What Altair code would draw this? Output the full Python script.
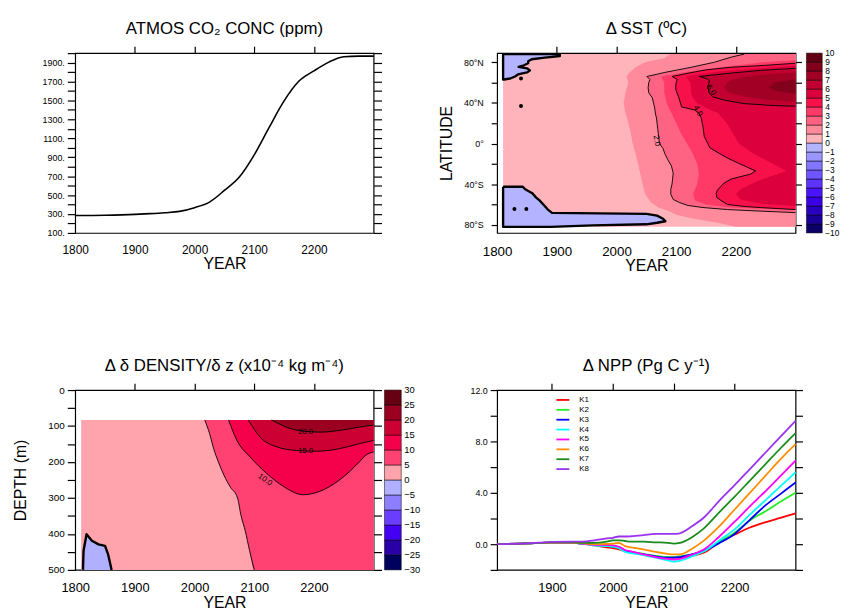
import altair as alt
import pandas as pd

FONT = "Liberation Sans"
W, H = 302, 182
COL_GAP, ROW_GAP = 125, 159

# ---------------- shared tick values ----------------
year_labels = [1800, 1900, 2000, 2100, 2200]
year_labels_npp = [1900, 2000, 2100, 2200]
year_top_ticks = [1900, 2000, 2100, 2200]

# ---------------- Panel 1: atmospheric CO2 ----------------
co2_years = [1800, 1850, 1900, 1925, 1950, 1975, 2000, 2025, 2050, 2075,
             2100, 2125, 2150, 2175, 2200, 2225, 2250, 2275, 2300]
co2_ppm = [284, 287, 296, 304, 314, 328, 367, 426, 549, 690,
           925, 1215, 1495, 1705, 1812, 1905, 1962, 1968, 1968]
co2_ticks = [100, 200, 300, 400, 500, 600, 700, 800, 900, 1000, 1100, 1200,
             1300, 1400, 1500, 1600, 1700, 1800, 1900, 2000]

# ---------------- Panel 2: delta SST (contour boundaries, lat -> year) ----------------
SST_YEAR0, SST_YEAR1 = 1810, 2300
SST_LAT_S, SST_LAT_N = -82, 88
sst_lat_ticks = [-80, -60, -40, -20, 0, 20, 40, 60, 80]

sst_l1_lat = [88, 84, 80, 75, 70, 66, 60, 50, 40, 30, 20, 10, 0, -10, -20, -30,
              -40, -50, -58, -63, -67, -70, -74, -78, -82]
sst_l1_year = [2090, 2080, 2048, 2032, 2022, 2017, 2020, 2015, 2012, 2015, 2020, 2024,
               2027, 2032, 2036, 2040, 2044, 2048, 2058, 2070, 2090, 2100, 2130, 2170, 2200]

sst_l2_lat = [88, 85, 80, 75, 70, 66, 63, 60, 55, 50, 45, 40, 35, 30, 25, 20, 15, 10,
              5, 0, -5, -10, -16, -22, -29, -35, -40, -45, -50, -55, -58, -61, -63,
              -65, -66.5, -68]
sst_l2_year = [2214, 2192, 2164, 2125, 2081, 2051, 2056, 2054, 2053, 2054, 2060, 2062,
               2064, 2065, 2067, 2068, 2069, 2070, 2071, 2072, 2078, 2081, 2086, 2092,
               2095, 2094, 2093, 2091, 2091, 2095, 2105, 2120, 2145, 2186, 2240, 2300]

sst_l3_lat = [82, 80, 75, 70, 66, 60, 50, 40, 30, 20, 10, 0, -10, -20, -30, -40, -50,
              -56, -60, -63, -65.5]
sst_l3_year = [2300, 2245, 2175, 2112, 2075, 2080, 2080, 2084, 2092, 2100, 2108, 2118,
               2128, 2135, 2138, 2135, 2128, 2132, 2150, 2190, 2300]

sst_l4_lat = [79, 77, 75, 72.5, 70.5, 68, 66, 63, 60, 55, 52, 46, 40, 36, 33, 30, 25,
              16, 7, 0, -4, -9, -14, -19, -23, -27, -30, -33, -35, -39, -42, -46, -49,
              -53, -56, -60, -62, -63, -64, -65]
sst_l4_year = [2300, 2250, 2190, 2150, 2131, 2110, 2093, 2102, 2100, 2099, 2100, 2104,
               2107, 2109, 2131, 2138, 2142, 2145, 2147, 2153, 2156, 2170, 2185, 2203,
               2218, 2233, 2225, 2205, 2192, 2180, 2175, 2169, 2167, 2168, 2175, 2186,
               2215, 2241, 2270, 2300]

sst_l5_lat = [76.5, 75, 73, 70.5, 68, 66, 60, 50, 45, 40, 35, 30, 20, 10, 0, -10, -20,
              -27, -32, -38, -45, -50, -55, -59, -61.5]
sst_l5_year = [2300, 2265, 2215, 2165, 2135, 2116, 2124, 2125, 2128, 2135, 2150, 2170,
               2185, 2195, 2205, 2230, 2262, 2285, 2260, 2232, 2208, 2200, 2208, 2240, 2300]

sst_l6_lat = [74, 72, 69, 66, 64, 62, 56, 50, 46, 42.6, 39.3, 37.5, 36.7]
sst_l6_year = [2300, 2241, 2186, 2139, 2150, 2156, 2153, 2155, 2161, 2181, 2214, 2260, 2300]

sst_l7_lat = [70, 68, 66, 63, 60, 55, 50, 46, 43, 41]
sst_l7_year = [2300, 2250, 2215, 2195, 2185, 2180, 2190, 2215, 2250, 2300]

sst_l8_lat = [63, 60, 56, 52, 49]
sst_l8_year = [2300, 2265, 2255, 2265, 2300]

# cold (below 0) patches: for each latitude, the year where the patch ends
sst_nblue_lat = [88, 86, 84.5, 83, 81, 79, 77, 75.5, 74, 72, 70, 68, 66, 64, 63]
sst_nblue_end = [1905, 1905, 1880, 1858, 1852, 1852, 1845, 1836, 1850, 1855, 1850,
                 1835, 1830, 1822, 1812]
sst_sblue_lat = [-42.5, -45, -49, -53, -56, -61, -65, -68.3, -69.2, -71, -74, -76.5,
                 -78, -79.5, -80.5, -82]
sst_sblue_end = [1843, 1847, 1859, 1865, 1871, 1879, 1885, 1892, 2050, 2068, 2078,
                 2082, 2068, 2050, 1960, 1890]
sst_dot_year = [1840, 1840, 1829, 1849]
sst_dot_lat = [64, 37, -64.5, -64.5]

sst_lab_text = ["2.0", "4.0", "6.0"]
sst_lab_year = [2067, 2136, 2158]
sst_lab_lat = [2.7, 31.9, 52.5]
sst_lab_angle = [78, 60, 53]

sst_cb_edges = [-10, -9, -8, -7, -6, -5, -4, -3, -2, -1, 0, 1, 2, 3, 4, 5, 6, 7, 8, 9, 10]
sst_colors = ["#0B0066", "#1A0099", "#2A00C0", "#3A00E6", "#4A14FF", "#5C33FF",
              "#6E55FF", "#8275FF", "#9A95FF", "#B3B3FF",
              "#FFB3BB", "#FF8A9C", "#FF6383", "#FF3A66", "#F7104A", "#DC003C",
              "#C10031", "#A30026", "#82001B", "#600012"]

# ---------------- Panel 3: delta d(density)/dz (contour boundaries, year -> depth) ----------------
DEN_YEAR0, DEN_YEAR1 = 1810, 2300
DEN_TOP, DEN_BOT = 83, 500
den_ticks = [0, 50, 100, 150, 200, 250, 300, 350, 400, 450, 500]

den_l5_year = [2017, 2025, 2032, 2040, 2049, 2060, 2072, 2078, 2085, 2092, 2100]
den_l5_depth = [83, 120, 163, 200, 236, 270, 300, 350, 392, 445, 500]
den_l10_year = [2057, 2071, 2093, 2121, 2149, 2182, 2209, 2243, 2276, 2287, 2300]
den_l10_depth = [83, 140, 186, 232, 268, 291, 282, 250, 200, 181, 172]
den_l15_year = [2090, 2110, 2138, 2171, 2204, 2243, 2276, 2300]
den_l15_depth = [83, 131, 158, 168, 170, 163, 149, 140]
den_l20_year = [2129, 2148, 2176, 2210, 2248, 2276, 2300]
den_l20_depth = [83, 99, 113, 117, 111, 103, 97]
den_blue_year = [1813, 1814, 1819, 1828, 1839, 1850, 1855, 1861]
den_blue_depth = [500, 447, 401, 419, 429, 433, 456, 500]

den_lab_text = ["20.0", "15.0", "10.0"]
den_lab_year = [2186, 2186, 2118]
den_lab_depth = [117, 169, 250]
den_lab_angle = [0, 0, 35]

den_cb_edges = [-30, -25, -20, -15, -10, -5, 0, 5, 10, 15, 20, 25, 30]
den_colors = ["#00005E", "#2A00A6", "#4400F2", "#6A3DFF", "#8C7FFF", "#B0B0FF",
              "#FFA3AC", "#FF4272", "#F5004A", "#CC0033", "#9C0021", "#660012"]

# ---------------- Panel 4: delta NPP ----------------
npp_years = [1810, 1850, 1880, 1900, 1930, 1950, 1970, 1990, 2000, 2010, 2020, 2030,
             2050, 2070, 2090, 2100, 2110, 2130, 2150, 2175, 2200, 2225, 2250, 2275, 2300]
npp_k1 = [0, 0.05, 0.1, 0.12, 0.1, 0.05, -0.1, -0.25, -0.3, -0.4, -0.55, -0.65, -0.8,
          -0.95, -1.05, -1.05, -1.05, -0.9, -0.65, 0.15, 0.75, 1.3, 1.7, 2.05, 2.4]
npp_k2 = [0, 0.05, 0.1, 0.12, 0.1, 0.05, -0.05, -0.1, -0.2, -0.3, -0.5, -0.6, -0.75,
          -0.9, -1.0, -1.0, -0.95, -0.8, -0.5, 0.2, 0.9, 1.85, 2.55, 3.3, 4.0]
npp_k3 = [0, 0.05, 0.1, 0.12, 0.1, 0.05, -0.05, -0.1, -0.2, -0.25, -0.5, -0.6, -0.8,
          -0.95, -1.05, -1.05, -1.0, -0.8, -0.5, 0.1, 0.8, 1.9, 3.0, 3.9, 4.8]
npp_k4 = [0, 0.05, 0.1, 0.12, 0.1, 0.05, -0.1, -0.15, -0.2, -0.3, -0.6, -0.7, -0.85,
          -1.05, -1.25, -1.35, -1.3, -0.95, -0.55, 0.3, 1.15, 2.3, 3.4, 4.5, 5.6]
npp_k5 = [0, 0.05, 0.1, 0.12, 0.1, 0.05, -0.05, -0.05, -0.1, -0.2, -0.45, -0.55, -0.8,
          -1.0, -1.15, -1.2, -1.15, -0.8, -0.4, 0.6, 1.75, 2.95, 4.1, 5.3, 6.5]
npp_k6 = [0, 0.05, 0.1, 0.12, 0.12, 0.08, 0.0, 0.02, 0.05, 0.1, -0.15, -0.25, -0.4,
          -0.6, -0.75, -0.8, -0.8, -0.35, 0.3, 1.4, 2.7, 4.0, 5.3, 6.6, 7.8]
npp_k7 = [0, 0.05, 0.1, 0.15, 0.15, 0.1, 0.1, 0.2, 0.3, 0.3, 0.25, 0.2, 0.2, 0.15,
          0.1, 0.05, 0.1, 0.55, 1.25, 2.5, 3.7, 4.95, 6.2, 7.45, 8.65]
npp_k8 = [0, 0.05, 0.12, 0.18, 0.2, 0.2, 0.3, 0.45, 0.5, 0.6, 0.6, 0.62, 0.7, 0.8,
          0.8, 0.8, 0.85, 1.4, 2.1, 3.4, 4.6, 5.85, 7.1, 8.35, 9.6]
npp_names = ["K1", "K2", "K3", "K4", "K5", "K6", "K7", "K8"]
npp_colors = ["#FF0000", "#22F022", "#0000FF", "#00FFFF", "#FF00FF", "#FF8C00",
              "#1B8B1B", "#9A32F0"]
npp_ticks = [-2, 0, 2, 4, 6, 8, 10, 12]


# ---------------- helpers ----------------
def yscale(lo, hi, reverse=False):
    if reverse:
        return alt.Scale(domain=[lo, hi], nice=False, zero=False, reverse=True)
    return alt.Scale(domain=[lo, hi], nice=False, zero=False)


def bottom_axis(values, size):
    return alt.Axis(orient="bottom", values=values, format="d", ticks=False,
                    labelFontSize=size, labelPadding=12, labelFlush=False,
                    labelOverlap=False, title="YEAR", titleFontSize=16,
                    titlePadding=0)


def top_axis():
    return alt.Axis(orient="top", values=year_top_ticks, labels=False,
                    tickSize=7, title=None)


def left_axis(values, expr, size, tick, pad, title=None, title_pad=0):
    if title:
        return alt.Axis(orient="left", values=values, labelExpr=expr,
                        labelFontSize=size, tickSize=tick, labelPadding=pad,
                        labelOverlap=False, labelFlush=False, title=title,
                        titleFontSize=16, titlePadding=title_pad)
    return alt.Axis(orient="left", values=values, labelExpr=expr,
                    labelFontSize=size, tickSize=tick, labelPadding=pad,
                    labelOverlap=False, labelFlush=False, title=None)


def right_axis(values, tick):
    return alt.Axis(orient="right", values=values, labels=False, tickSize=tick,
                    title=None)


def colorbar(edges, colors, lab_size, x0, x1):
    lab = [str(e).replace("-", "\u2212") for e in edges]
    cdf = pd.DataFrame({"lo": edges[:-1], "hi": edges[1:], "c": colors})
    ldf = pd.DataFrame({"v": edges, "t": lab})
    ys = yscale(edges[0], edges[-1])
    r = alt.Chart(cdf).mark_rect(stroke="black", strokeWidth=0.5).encode(
        x=alt.value(x0), x2=alt.value(x1),
        y=alt.Y("lo:Q", scale=ys, axis=None), y2="hi",
        color=alt.Color("c:N", scale=None))
    t = alt.Chart(ldf).mark_text(align="left", baseline="middle", font=FONT,
                                 fontSize=lab_size, color="black").encode(
        x=alt.value(x1 + 3), y=alt.Y("v:Q", scale=ys, axis=None), text="t:N")
    return alt.layer(r, t)


# ---------------- Panel 1 ----------------
co2_df = pd.DataFrame({"year": co2_years, "ppm": co2_ppm})
xs1 = yscale(1800, 2300)
ys1 = yscale(100, 2000)
p1 = alt.layer(
    alt.Chart(co2_df).mark_line(color="black", strokeWidth=1.6, interpolate="monotone").encode(
        x=alt.X("year:Q", scale=xs1, axis=bottom_axis(year_labels, 12)),
        y=alt.Y("ppm:Q", scale=ys1,
                axis=left_axis(co2_ticks, "datum.value % 200 == 100 ? datum.value + '.' : ''",
                               9, 8, 3))),
    alt.Chart(co2_df).mark_line(strokeOpacity=0).encode(
        x=alt.X("year:Q", scale=xs1, axis=top_axis()),
        y=alt.Y("ppm:Q", scale=ys1, axis=right_axis(co2_ticks, 8))),
).resolve_axis(x="independent", y="independent").properties(
    width=W, height=H, title="ATMOS CO\u2082 CONC (ppm)")

# ---------------- Panel 2 ----------------
xs2 = yscale(1800, 2300)
ys2 = yscale(-88, 89)
lat_expr = ("datum.value == 0 ? '0\u00b0' : (datum.value % 40 == 0 ? "
            "abs(datum.value) + '\u00b0' + (datum.value > 0 ? 'N' : 'S') : '')")
sst_bg = pd.DataFrame({"x0": [SST_YEAR0], "x1": [SST_YEAR1],
                       "y0": [SST_LAT_S], "y1": [SST_LAT_N]})
L2 = [alt.Chart(sst_bg).mark_rect(color=sst_colors[10]).encode(
    x=alt.X("x0:Q", scale=xs2, axis=bottom_axis(year_labels, 13.5)), x2="x1",
    y=alt.Y("y0:Q", scale=ys2,
            axis=left_axis(sst_lat_ticks, lat_expr, 9, 6, 8, "LATITUDE", 9)),
    y2="y1")]

sst_blobs = [(sst_nblue_lat, sst_nblue_end), (sst_sblue_lat, sst_sblue_end)]
for lats, ends in sst_blobs:
    df = pd.DataFrame({"lat": lats, "x0": SST_YEAR0, "x1": ends})
    L2.append(alt.Chart(df).mark_area(orient="horizontal", color=sst_colors[9]).encode(
        x=alt.X("x0:Q", scale=xs2, axis=None, stack=None), x2="x1",
        y=alt.Y("lat:Q", scale=ys2, axis=None)))

sst_levels = [(1, sst_l1_lat, sst_l1_year), (2, sst_l2_lat, sst_l2_year),
              (3, sst_l3_lat, sst_l3_year), (4, sst_l4_lat, sst_l4_year),
              (5, sst_l5_lat, sst_l5_year), (6, sst_l6_lat, sst_l6_year),
              (7, sst_l7_lat, sst_l7_year), (8, sst_l8_lat, sst_l8_year)]
for lvl, lats, years in sst_levels:
    df = pd.DataFrame({"lat": lats, "year": years, "end": SST_YEAR1})
    L2.append(alt.Chart(df).mark_area(orient="horizontal", color=sst_colors[10 + lvl]).encode(
        x=alt.X("year:Q", scale=xs2, axis=None, stack=None), x2="end",
        y=alt.Y("lat:Q", scale=ys2, axis=None)))

rows = []
for lvl, lats, years in sst_levels:
    if lvl % 2 == 0 and lvl <= 6:
        for i, (la, yr) in enumerate(zip(lats, years)):
            rows.append({"lvl": lvl, "i": i, "lat": la, "year": yr})
L2.append(alt.Chart(pd.DataFrame(rows)).mark_line(color="black", strokeWidth=0.9).encode(
    x=alt.X("year:Q", scale=xs2, axis=None), y=alt.Y("lat:Q", scale=ys2, axis=None),
    order="i:Q", detail="lvl:N"))

rows = []
for b, (lats, ends) in enumerate(sst_blobs):
    pts = [(SST_YEAR0, lats[0])] + list(zip(ends, lats)) + [(SST_YEAR0, lats[-1]), (SST_YEAR0, lats[0])]
    for i, (yr, la) in enumerate(pts):
        rows.append({"b": b, "i": i, "year": yr, "lat": la})
L2.append(alt.Chart(pd.DataFrame(rows)).mark_line(color="black", strokeWidth=2.4,
                                                  strokeJoin="round").encode(
    x=alt.X("year:Q", scale=xs2, axis=None), y=alt.Y("lat:Q", scale=ys2, axis=None),
    order="i:Q", detail="b:N"))

L2.append(alt.Chart(pd.DataFrame({"year": sst_dot_year, "lat": sst_dot_lat})).mark_circle(
    size=16, color="black", opacity=1).encode(
    x=alt.X("year:Q", scale=xs2, axis=None), y=alt.Y("lat:Q", scale=ys2, axis=None)))

L2.append(alt.Chart(pd.DataFrame({"year": sst_lab_year, "lat": sst_lab_lat,
                                  "t": sst_lab_text, "a": sst_lab_angle})).mark_text(
    font=FONT, fontSize=8, color="black").encode(
    x=alt.X("year:Q", scale=xs2, axis=None), y=alt.Y("lat:Q", scale=ys2, axis=None),
    text="t:N", angle=alt.Angle("a:Q", scale=None)))

L2.append(alt.Chart(sst_bg).mark_rect(opacity=0).encode(
    x=alt.X("x0:Q", scale=xs2, axis=top_axis()), x2="x1",
    y=alt.Y("y0:Q", scale=ys2, axis=right_axis(sst_lat_ticks, 6)), y2="y1"))

p2 = alt.layer(
    alt.layer(*L2).resolve_axis(x="independent", y="independent"),
    colorbar(sst_cb_edges, sst_colors, 8.5, W + 11, W + 27),
).resolve_scale(y="independent").properties(width=W, height=H, title="\u0394 SST (\u00baC)")

# ---------------- Panel 3 ----------------
xs3 = yscale(1800, 2300)
ys3 = yscale(0, 500, reverse=True)
den_bg = pd.DataFrame({"x0": [DEN_YEAR0], "x1": [DEN_YEAR1], "y0": [DEN_TOP], "y1": [DEN_BOT]})
L3 = [alt.Chart(den_bg).mark_rect(color=den_colors[6]).encode(
    x=alt.X("x0:Q", scale=xs3, axis=bottom_axis(year_labels, 13)), x2="x1",
    y=alt.Y("y0:Q", scale=ys3,
            axis=left_axis(den_ticks, "datum.value % 100 == 0 ? '' + datum.value : ''",
                           10, 8, 3, "DEPTH (m)", 20)),
    y2="y1")]

bdf = pd.DataFrame({"year": den_blue_year, "depth": den_blue_depth, "bot": DEN_BOT})
L3.append(alt.Chart(bdf).mark_area(orient="vertical", color=den_colors[5]).encode(
    x=alt.X("year:Q", scale=xs3, axis=None), y=alt.Y("depth:Q", scale=ys3, axis=None, stack=None),
    y2="bot"))

den_levels = [(5, den_l5_year + [DEN_YEAR1], den_l5_depth + [DEN_BOT], 7),
              (10, den_l10_year, den_l10_depth, 8),
              (15, den_l15_year, den_l15_depth, 9),
              (20, den_l20_year, den_l20_depth, 10)]
for lvl, years, depths, ci in den_levels:
    df = pd.DataFrame({"year": years, "top": DEN_TOP, "depth": depths})
    L3.append(alt.Chart(df).mark_area(orient="vertical", color=den_colors[ci],
                                      interpolate="monotone").encode(
        x=alt.X("year:Q", scale=xs3, axis=None), y=alt.Y("top:Q", scale=ys3, axis=None, stack=None),
        y2="depth"))

rows = []
for lvl, years, depths in [(5, den_l5_year, den_l5_depth), (10, den_l10_year, den_l10_depth),
                           (15, den_l15_year, den_l15_depth), (20, den_l20_year, den_l20_depth)]:
    for i, (yr, d) in enumerate(zip(years, depths)):
        rows.append({"lvl": lvl, "i": i, "year": yr, "depth": d})
L3.append(alt.Chart(pd.DataFrame(rows)).mark_line(color="black", strokeWidth=0.9,
                                                  interpolate="monotone").encode(
    x=alt.X("year:Q", scale=xs3, axis=None), y=alt.Y("depth:Q", scale=ys3, axis=None),
    order="i:Q", detail="lvl:N"))
L3.append(alt.Chart(bdf).mark_line(color="black", strokeWidth=2.4, strokeJoin="round").encode(
    x=alt.X("year:Q", scale=xs3, axis=None), y=alt.Y("depth:Q", scale=ys3, axis=None)))
L3.append(alt.Chart(pd.DataFrame({"year": den_lab_year, "depth": den_lab_depth,
                                  "t": den_lab_text, "a": den_lab_angle})).mark_text(
    font=FONT, fontSize=8, color="black").encode(
    x=alt.X("year:Q", scale=xs3, axis=None), y=alt.Y("depth:Q", scale=ys3, axis=None),
    text="t:N", angle=alt.Angle("a:Q", scale=None)))
L3.append(alt.Chart(den_bg).mark_rect(opacity=0).encode(
    x=alt.X("x0:Q", scale=xs3, axis=top_axis()), x2="x1",
    y=alt.Y("y0:Q", scale=ys3, axis=right_axis(den_ticks, 8)), y2="y1"))

p3 = alt.layer(
    alt.layer(*L3).resolve_axis(x="independent", y="independent"),
    colorbar(den_cb_edges, den_colors, 9.5, W + 11, W + 28),
).resolve_scale(y="independent").properties(
    width=W, height=H, title="\u0394 \u03b4 DENSITY/\u03b4 z (x10\u207b\u2074 kg m\u207b\u2074)")

# ---------------- Panel 4 ----------------
rows = []
for name, vals in zip(npp_names, [npp_k1, npp_k2, npp_k3, npp_k4, npp_k5, npp_k6, npp_k7, npp_k8]):
    for yr, v in zip(npp_years, vals):
        rows.append({"run": name, "year": yr, "npp": v})
npp_df = pd.DataFrame(rows)
xs4 = yscale(1810, 2300)
ys4 = yscale(-2, 12)
p4 = alt.layer(
    alt.Chart(npp_df).mark_line(strokeWidth=1.8, interpolate="monotone").encode(
        x=alt.X("year:Q", scale=xs4, axis=bottom_axis(year_labels_npp, 13)),
        y=alt.Y("npp:Q", scale=ys4,
                axis=left_axis(npp_ticks, "datum.value % 4 == 0 ? format(datum.value, '.1f') : ''",
                               9, 7, 3)),
        color=alt.Color("run:N", scale=alt.Scale(domain=npp_names, range=npp_colors),
                        legend=alt.Legend(orient="none", legendX=W + COL_GAP + 61,
                                          legendY=H + ROW_GAP + 4.5, title=None,
                                          symbolType="M-1.5,0H1.5", symbolSize=76,
                                          symbolStrokeWidth=1.8, labelFontSize=8,
                                          labelFont=FONT, labelOffset=11, rowPadding=0,
                                          padding=0))),
    alt.Chart(npp_df).mark_line(strokeOpacity=0).encode(
        x=alt.X("year:Q", scale=xs4, axis=top_axis()),
        y=alt.Y("npp:Q", scale=ys4, axis=right_axis(npp_ticks, 7)),
        detail="run:N"),
).resolve_axis(x="independent", y="independent").properties(
    width=W, height=H, title="\u0394 NPP (Pg C y\u207b\u00b9)")

chart = alt.concat(p1, p2, p3, p4, columns=2, bounds="flush",
                   spacing={"row": ROW_GAP, "column": COL_GAP}).properties(
    padding={"left": 3, "top": 7, "right": 0, "bottom": 0}
).configure_view(stroke="black", strokeWidth=1.2).configure_axis(
    domain=False, grid=False, tickColor="black", tickWidth=1.2, labelColor="black",
    titleColor="black", labelFont=FONT, titleFont=FONT, titleFontWeight="normal"
).configure_title(font=FONT, fontSize=17, fontWeight="normal", color="black",
                  anchor="middle", frame="group", offset=8)

chart.save("out.html", embed_options={"renderer": "svg", "actions": False})
